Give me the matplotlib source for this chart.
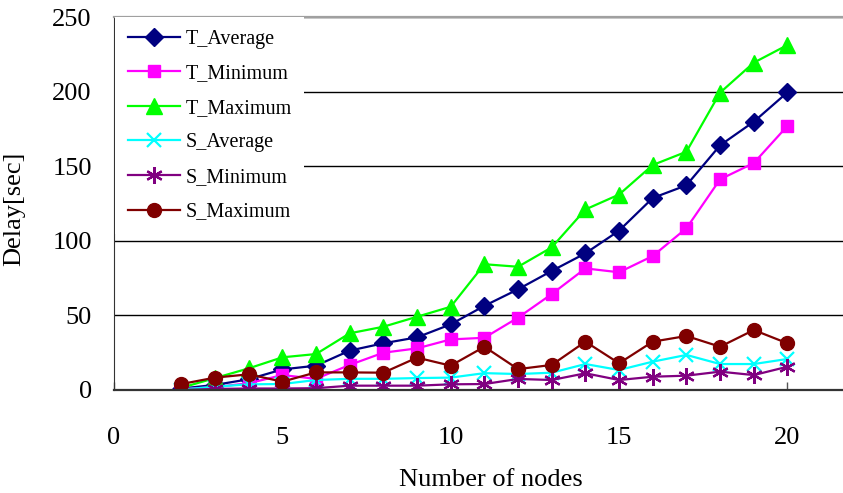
import numpy as np
import matplotlib
matplotlib.use("Agg")
import matplotlib.pyplot as plt

# ------------------------
# Data
nodes = [2, 3, 4, 5, 6, 7, 8, 9, 10, 11, 12, 13, 14, 15, 16, 17, 18, 19, 20]

t_average = [1, 3.4, 7.2, 13.8, 16.3, 26.4, 31.3, 35.3, 44, 56.4,
             67.5, 79.8, 91.6, 106.8, 128.7, 137.2, 164, 179.8, 199.5]
t_minimum = [0.5, 2, 4.5, 10, 7.5, 16.8, 25, 27.9, 33.9, 35,
             48.5, 64.3, 81.5, 78.9, 89.8, 108.4, 141.2, 152.1, 177]
t_maximum = [1.5, 8, 14.5, 21.9, 24.1, 38, 42.4, 49.1, 55.8, 84.3,
             82.6, 95.6, 121, 131, 150.8, 159.7, 199.3, 219.4, 231.2]
s_average = [0.3, 2.2, 3.8, 4, 6.7, 7.5, 7.5, 8, 8.3, 11.3,
             10.7, 11.6, 17.4, 13.4, 19, 23.5, 17.4, 17.4, 20.8]
s_minimum = [0, 0.7, 1, 1, 1.2, 2.9, 2.9, 2.9, 3.8, 4,
             7.4, 6.7, 11.2, 6.7, 8.9, 9.6, 12.3, 10, 15.6]
s_maximum = [4, 8.3, 10.5, 5.6, 11.8, 11.8, 11.6, 21.7, 16.3, 29,
             14, 16.8, 32.4, 17.9, 32.4, 36.2, 29, 40.2, 31.3]

x_ticks = [0, 5, 10, 15, 20]
y_ticks = [0, 50, 100, 150, 200, 250]

series = [
    ("T_Average", t_average, "#000080", "D", 9),
    ("T_Minimum", t_minimum, "#FF00FF", "s", 9),
    ("T_Maximum", t_maximum, "#00FF00", "^", 11),
    ("S_Average", s_average, "#00FFFF", "x", 10),
    ("S_Minimum", s_minimum, "#800080", (6, 2, 0), 12),
    ("S_Maximum", s_maximum, "#800000", "o", 10),
]

# ------------------------
# Plot
plt.rcParams['font.family'] = ['Liberation Serif', 'DejaVu Serif']

fig = plt.figure(figsize=(8.43, 4.93), dpi=100)
ax = fig.add_axes([114 / 843, 103 / 493, 729 / 843, 373 / 493])

for name, vals, col, mk, ms in series:
    ax.plot(nodes, vals, color=col, marker=mk, markersize=ms, linewidth=1.6,
            markeredgewidth=1.6 if mk in ("x", (6, 2, 0)) else 1.0,
            label=name)

ax.set_xlim(0, 21.65)
ax.set_ylim(0, 250)
ax.set_xticks(x_ticks)
ax.set_yticks(y_ticks)
ax.yaxis.grid(True, color="black", linewidth=1.0)
ax.tick_params(axis="x", direction="in", length=6, width=1, color="#555555",
               labelsize=19, pad=26.5)
ax.tick_params(axis="y", length=0, labelsize=19, pad=16)

ax.spines["right"].set_visible(False)
ax.spines["top"].set_color("#a0a0a0")
ax.spines["top"].set_linewidth(1.6)
ax.spines["left"].set_color("#333333")
ax.spines["bottom"].set_linewidth(1.6)
ax.spines["bottom"].set_color("#333333")

ax.set_xlabel("Number of nodes", fontsize=19, va="baseline")
ax.xaxis.set_label_coords((491 - 114) / 729, -(486 - 390) / 373)
ax.set_ylabel("Delay[sec]", fontsize=19)
ax.yaxis.set_label_coords(-(114 - 25) / 729, 0.485)

leg = ax.legend(loc="upper left", bbox_to_anchor=(0.002, 0.999), fontsize=14.5,
                frameon=True, fancybox=False, framealpha=1, edgecolor="none",
                borderaxespad=0, handlelength=2.6, handletextpad=0.3,
                labelspacing=0.77, borderpad=0.6)

plt.savefig("out.png", dpi=100)
